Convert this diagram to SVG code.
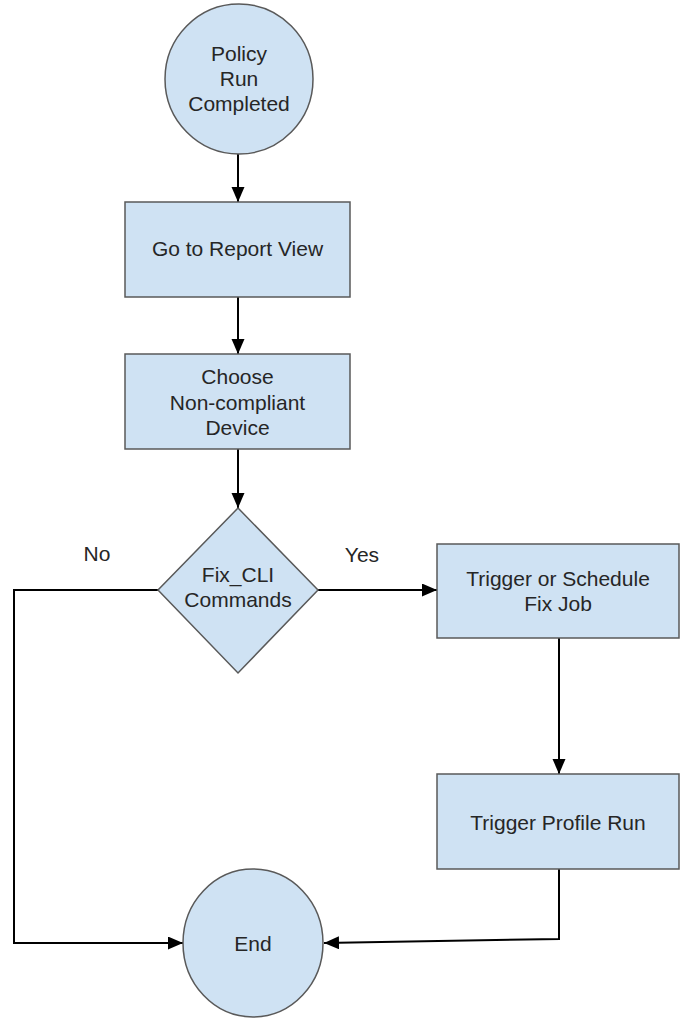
<svg xmlns="http://www.w3.org/2000/svg" width="681" height="1020" viewBox="0 0 681 1020">
  <style>
    .shape { fill: #cfe2f3; stroke: #595959; stroke-width: 1.5; }
    .label { font-family: "Liberation Sans", Arial, sans-serif; font-size: 21px; fill: #262626; text-anchor: middle; }
    .edge { fill: none; stroke: #000000; stroke-width: 2; }
  </style>
  <defs>
    <marker id="arrow" markerUnits="userSpaceOnUse" markerWidth="16" markerHeight="14" refX="15" refY="6.5" orient="auto">
      <path d="M0,0 L15,6.5 L0,13 Z" fill="#000000"/>
    </marker>
  </defs>

  <rect width="681" height="1020" fill="#ffffff"/>

  <!-- connectors -->
  <g id="connectors">
    <path class="edge" d="M238,154 L238,202" marker-end="url(#arrow)"/>
    <path class="edge" d="M238,297 L238,354" marker-end="url(#arrow)"/>
    <path class="edge" d="M238,449 L238,508" marker-end="url(#arrow)"/>
    <path class="edge" d="M318,590 L437,590" marker-end="url(#arrow)"/>
    <path class="edge" d="M158,590 L14,590 L14,943 L183,943" marker-end="url(#arrow)"/>
    <path class="edge" d="M559,638 L559,774" marker-end="url(#arrow)"/>
    <path class="edge" d="M559,869 L559,939 L324,943" marker-end="url(#arrow)"/>
    <text class="label" x="97" y="561">No</text>
    <text class="label" x="362" y="562">Yes</text>
  </g>

  <!-- start -->
  <g id="policy-run-completed">
    <ellipse class="shape" cx="239" cy="79" rx="74" ry="75"/>
    <text class="label" x="239" y="61">Policy</text>
    <text class="label" x="239" y="86">Run</text>
    <text class="label" x="239" y="111">Completed</text>
  </g>

  <g id="go-to-report-view">
    <rect class="shape" x="125" y="202" width="225" height="95"/>
    <text class="label" x="237.5" y="256">Go to Report View</text>
  </g>

  <g id="choose-device">
    <rect class="shape" x="125" y="354" width="225" height="95"/>
    <text class="label" x="237.5" y="384">Choose</text>
    <text class="label" x="237.5" y="410">Non-compliant</text>
    <text class="label" x="237.5" y="435">Device</text>
  </g>

  <g id="fix-cli-commands">
    <polygon class="shape" points="238,508 318,590 238,673 158,590"/>
    <text class="label" x="238" y="582">Fix_CLI</text>
    <text class="label" x="238" y="607">Commands</text>
  </g>

  <g id="trigger-fix-job">
    <rect class="shape" x="437" y="544" width="242" height="94"/>
    <text class="label" x="558" y="586">Trigger or Schedule</text>
    <text class="label" x="558" y="611">Fix Job</text>
  </g>

  <g id="trigger-profile-run">
    <rect class="shape" x="437" y="774" width="242" height="95"/>
    <text class="label" x="558" y="830">Trigger Profile Run</text>
  </g>

  <!-- finish -->
  <g id="end">
    <ellipse class="shape" cx="253" cy="943" rx="70" ry="74"/>
    <text class="label" x="253" y="951">End</text>
  </g>
</svg>
